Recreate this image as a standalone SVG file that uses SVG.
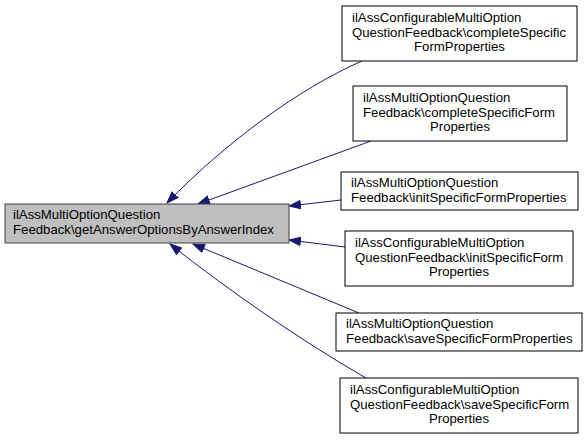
<svg xmlns="http://www.w3.org/2000/svg" width="588" height="440" viewBox="0 0 588 440">
<defs>
<style>
.node rect{fill:#ffffff;stroke:#000000;stroke-width:1}
.main rect{fill:#bfbfbf;stroke:#404040;stroke-width:1}
text{font-family:"Liberation Sans",Arial,sans-serif;font-size:13.2px;fill:#000000}
.edge{fill:none;stroke:#191970;stroke-width:1}
</style>
<marker id="arr" viewBox="0 0 13 10" refX="12" refY="5" markerWidth="13" markerHeight="10" markerUnits="userSpaceOnUse" orient="auto">
<path d="M0.5,0.8 L12,5 L0.5,9.2 Z" fill="#191970" stroke="#191970" stroke-width="1"/>
</marker>
</defs>
<rect width="588" height="440" fill="#ffffff"/>
<g id="edges">
<path class="edge" d="M362,61 C300,88 226,142 167,203" marker-end="url(#arr)"/>
<path class="edge" d="M371,141 L198,204" marker-end="url(#arr)"/>
<path class="edge" d="M341,200 L289,206" marker-end="url(#arr)"/>
<path class="edge" d="M345,247 L289,240" marker-end="url(#arr)"/>
<path class="edge" d="M359,313 L193,244" marker-end="url(#arr)"/>
<path class="edge" d="M366,378 C300,340 228,290 170,244" marker-end="url(#arr)"/>
</g>
<g id="main" class="main">
<rect x="5" y="204" width="284" height="39"/>
<text x="13" y="219">ilAssMultiOptionQuestion</text>
<text x="13" y="234">Feedback\getAnswerOptionsByAnswerIndex</text>
</g>
<g id="n1" class="node">
<rect x="342" y="6" width="235" height="55"/>
<text x="352" y="22">ilAssConfigurableMultiOption</text>
<text x="352" y="37">QuestionFeedback\completeSpecific</text>
<text x="459.5" y="51" text-anchor="middle">FormProperties</text>
</g>
<g id="n2" class="node">
<rect x="353" y="86" width="214" height="55"/>
<text x="363" y="102">ilAssMultiOptionQuestion</text>
<text x="363" y="117">Feedback\completeSpecificForm</text>
<text x="460" y="131" text-anchor="middle">Properties</text>
</g>
<g id="n3" class="node">
<rect x="341" y="172" width="237" height="38"/>
<text x="351" y="187">ilAssMultiOptionQuestion</text>
<text x="351" y="202">Feedback\initSpecificFormProperties</text>
</g>
<g id="n4" class="node">
<rect x="345" y="231" width="228" height="55"/>
<text x="355" y="247">ilAssConfigurableMultiOption</text>
<text x="355" y="262">QuestionFeedback\initSpecificForm</text>
<text x="459" y="276" text-anchor="middle">Properties</text>
</g>
<g id="n5" class="node">
<rect x="336" y="313" width="246" height="38"/>
<text x="346" y="328">ilAssMultiOptionQuestion</text>
<text x="346" y="343">Feedback\saveSpecificFormProperties</text>
</g>
<g id="n6" class="node">
<rect x="340" y="378" width="238" height="55"/>
<text x="350" y="394">ilAssConfigurableMultiOption</text>
<text x="350" y="409">QuestionFeedback\saveSpecificForm</text>
<text x="459" y="423" text-anchor="middle">Properties</text>
</g>
</svg>
